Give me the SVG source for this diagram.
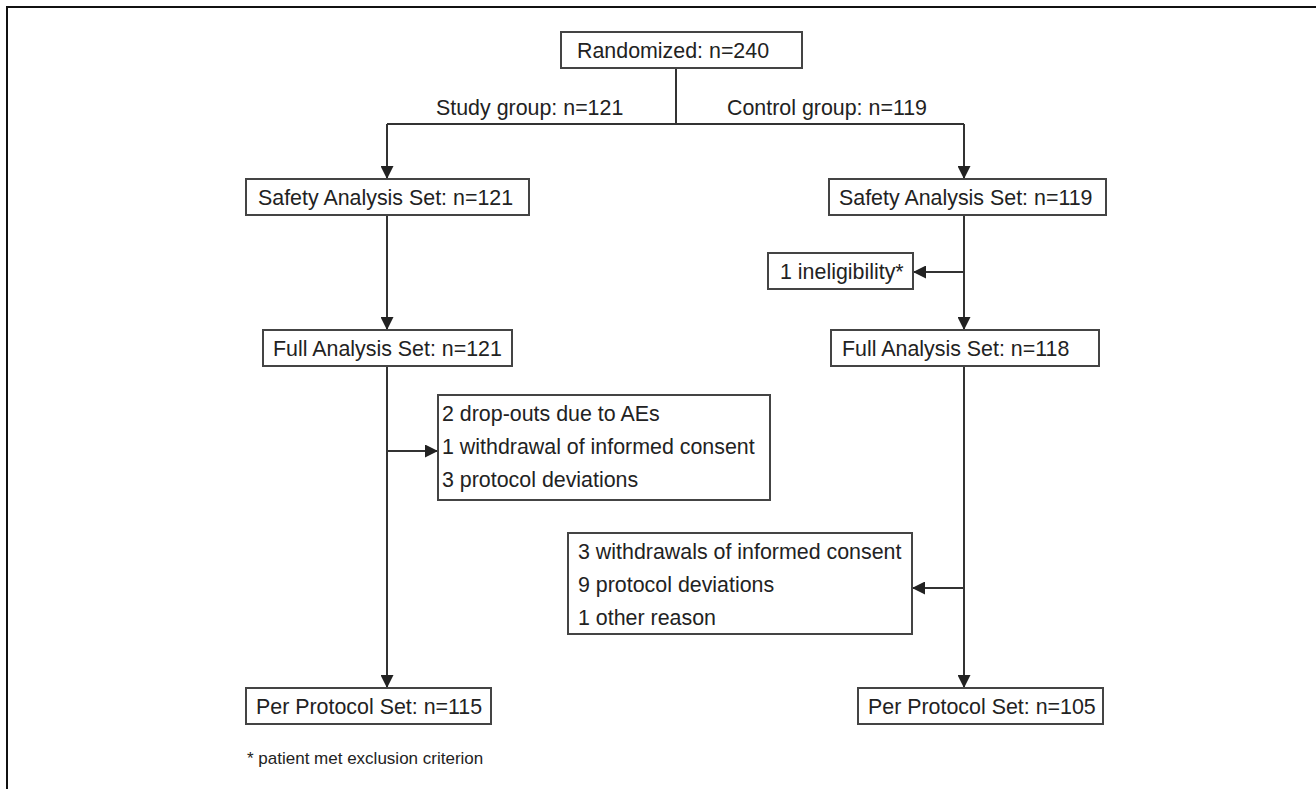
<svg xmlns="http://www.w3.org/2000/svg" width="1316" height="789" viewBox="0 0 1316 789">
<style>
.box{fill:#fff;stroke:#444;stroke-width:2}
.t{font-family:"Liberation Sans",Arial,sans-serif;font-size:21.4px;fill:#222}
.fn{font-family:"Liberation Sans",Arial,sans-serif;font-size:17px;fill:#222}
.ln{fill:none;stroke:#333;stroke-width:2}
</style>
<defs>
<marker id="ah" viewBox="0 0 13 13" refX="13" refY="6.5" markerWidth="13" markerHeight="13" markerUnits="userSpaceOnUse" orient="auto">
<path d="M0,0 L13,6.5 L0,13 z" fill="#222"/>
</marker>
</defs>
<rect width="1316" height="789" fill="#fff"/>
<path d="M7,789 V7 H1316" fill="none" stroke="#111" stroke-width="2"/>
<g id="connectors">
<line class="ln" x1="676" y1="68" x2="676" y2="124"/>
<line class="ln" x1="387" y1="124" x2="964" y2="124"/>
<line class="ln" x1="387" y1="124" x2="387" y2="179" marker-end="url(#ah)"/>
<line class="ln" x1="964" y1="124" x2="964" y2="179" marker-end="url(#ah)"/>
<line class="ln" x1="387" y1="215" x2="387" y2="330" marker-end="url(#ah)"/>
<line class="ln" x1="964" y1="215" x2="964" y2="330" marker-end="url(#ah)"/>
<line class="ln" x1="964" y1="272" x2="913" y2="272" marker-end="url(#ah)"/>
<line class="ln" x1="387" y1="366" x2="387" y2="688" marker-end="url(#ah)"/>
<line class="ln" x1="387" y1="451" x2="438" y2="451" marker-end="url(#ah)"/>
<line class="ln" x1="964" y1="366" x2="964" y2="688" marker-end="url(#ah)"/>
<line class="ln" x1="964" y1="588" x2="912" y2="588" marker-end="url(#ah)"/>
</g>
<g id="label-study"><text class="t" x="436" y="115">Study group: n=121</text></g>
<g id="label-control"><text class="t" x="727" y="115">Control group: n=119</text></g>
<g id="randomized">
<rect class="box" x="561" y="32" width="241" height="36"/>
<text class="t" x="577" y="58">Randomized: n=240</text>
</g>
<g id="safety-study">
<rect class="box" x="246" y="179" width="283" height="36"/>
<text class="t" x="258" y="205">Safety Analysis Set: n=121</text>
</g>
<g id="safety-control">
<rect class="box" x="829" y="179" width="277" height="36"/>
<text class="t" x="839" y="205">Safety Analysis Set: n=119</text>
</g>
<g id="ineligibility">
<rect class="box" x="768" y="253" width="145" height="36"/>
<text class="t" x="780" y="279">1 ineligibility*</text>
</g>
<g id="full-study">
<rect class="box" x="263" y="330" width="249" height="36"/>
<text class="t" x="273" y="356">Full Analysis Set: n=121</text>
</g>
<g id="full-control">
<rect class="box" x="831" y="330" width="268" height="36"/>
<text class="t" x="842" y="356">Full Analysis Set: n=118</text>
</g>
<g id="dropouts-study">
<rect class="box" x="438" y="395" width="332" height="105"/>
<text class="t" x="442" y="421">2 drop-outs due to AEs</text>
<text class="t" x="442" y="454">1 withdrawal of informed consent</text>
<text class="t" x="442" y="487">3 protocol deviations</text>
</g>
<g id="dropouts-control">
<rect class="box" x="568" y="533" width="344" height="101"/>
<text class="t" x="578" y="559">3 withdrawals of informed consent</text>
<text class="t" x="578" y="592">9 protocol deviations</text>
<text class="t" x="578" y="625">1 other reason</text>
</g>
<g id="pp-study">
<rect class="box" x="246" y="688" width="245" height="36"/>
<text class="t" x="256" y="714">Per Protocol Set: n=115</text>
</g>
<g id="pp-control">
<rect class="box" x="858" y="688" width="245" height="36"/>
<text class="t" x="868" y="714">Per Protocol Set: n=105</text>
</g>
<g id="footnote"><text class="fn" x="247" y="764">* patient met exclusion criterion</text></g>
</svg>
